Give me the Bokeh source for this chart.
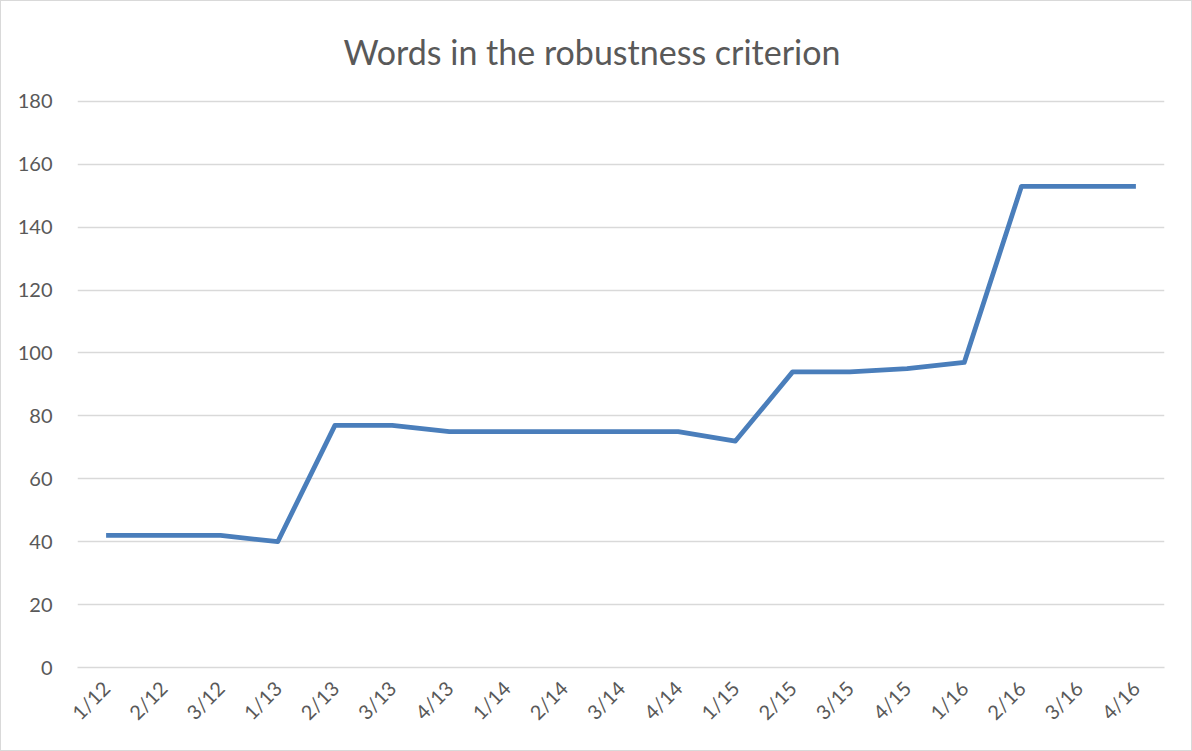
import math
from bokeh.plotting import figure
from bokeh.models import Range1d, FixedTicker
from bokeh.embed import file_html
from bokeh.resources import INLINE

categories = ["1/12", "2/12", "3/12", "1/13", "2/13", "3/13", "4/13", "1/14", "2/14",
              "3/14", "4/14", "1/15", "2/15", "3/15", "4/15", "1/16", "2/16", "3/16", "4/16"]
words = [42, 42, 42, 40, 77, 77, 75, 75, 75, 75, 75, 72, 94, 94, 95, 97, 153, 153, 153]
y_ticks = [0, 20, 40, 60, 80, 100, 120, 140, 160, 180]

FONT = "Lato"
GREY = "#595959"

p = figure(width=1192, height=751, x_range=categories, y_range=Range1d(0, 180.6),
           output_backend="svg", toolbar_location=None,
           min_border_left=76, min_border_right=29, min_border_top=96, min_border_bottom=85)

p.title.text = "Words in the robustness criterion"
p.title.align = "left"
p.title.offset = 266
p.title.text_font = FONT
p.title.text_font_size = "34px"
p.title.text_font_style = "normal"
p.title.text_color = GREY
p.title.standoff = 55

p.line(x=categories, y=words, line_color="#4a7ebb", line_width=4.8, line_join="round")

p.outline_line_color = None
p.background_fill_color = "white"
p.border_fill_color = "white"
p.styles = {"border": "1px solid #d9d9d9", "box-sizing": "border-box"}

p.xgrid.grid_line_color = None
p.ygrid.grid_line_color = "#d9d9d9"
p.ygrid.grid_line_width = 1.3
p.yaxis.ticker = FixedTicker(ticks=y_ticks)

p.yaxis.axis_line_color = None
p.yaxis.major_tick_line_color = None
p.yaxis.minor_tick_line_color = None
p.yaxis.major_label_text_font = FONT
p.yaxis.major_label_text_font_size = "20px"
p.yaxis.major_label_text_color = GREY
p.yaxis.major_label_standoff = 19

p.xaxis.axis_line_color = "#d9d9d9"
p.xaxis.axis_line_width = 1.3
p.xaxis.major_tick_line_color = None
p.xaxis.minor_tick_line_color = None
p.xaxis.major_label_orientation = math.pi / 4
p.xaxis.major_label_text_font = FONT
p.xaxis.major_label_text_font_size = "20px"
p.xaxis.major_label_text_color = GREY
p.xaxis.major_label_standoff = 11

open("out.html", "w").write(file_html(p, INLINE))
